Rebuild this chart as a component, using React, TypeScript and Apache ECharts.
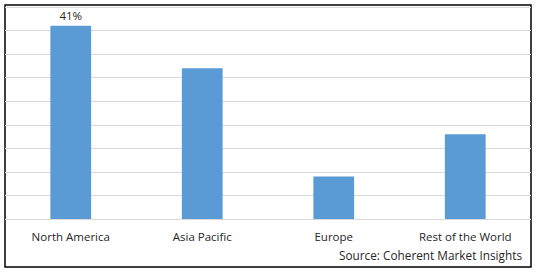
import React, { useEffect, useRef } from "react";
import * as echarts from "echarts";

const categories = ["North America", "Asia Pacific", "Europe", "Rest of the World"];
const values = [41, 32, 9, 18];
const labelled = [true, false, false, false];
const axisMax = 45;
const axisInterval = 5;
const sourceText = "Source: Coherent Market Insights";

const FONT = "'Open Sans', sans-serif";

export default function App() {
  const ref = useRef<HTMLDivElement>(null);
  useEffect(() => {
    if (!ref.current) return;
    const chart = echarts.init(ref.current, null, { renderer: "svg" });
    chart.setOption({
      animation: false,
      backgroundColor: "#ffffff",
      grid: { left: 5, right: 7, top: 7, bottom: 53, containLabel: false },
      xAxis: {
        type: "category",
        data: categories,
        axisLine: { show: false },
        axisTick: { show: false },
        axisLabel: {
          color: "#262626",
          fontFamily: FONT,
          fontSize: 11.5,
          margin: 11,
          interval: 0,
        },
      },
      yAxis: {
        type: "value",
        min: 0,
        max: axisMax,
        interval: axisInterval,
        axisLabel: { show: false },
        axisLine: { show: false },
        axisTick: { show: false },
        splitLine: { show: true, lineStyle: { color: "#d9d9d9", width: 1 } },
      },
      series: [
        {
          type: "bar",
          barWidth: "31%",
          itemStyle: { color: "#5b9bd5" },
          data: values.map((v, i) => ({
            value: v,
            label: {
              show: labelled[i],
              position: "top",
              distance: 4,
              formatter: "{c}%",
              color: "#262626",
              fontFamily: FONT,
              fontSize: 11.5,
            },
          })),
        },
      ],
      graphic: [
        {
          type: "rect",
          shape: { x: 5, y: 5, width: 526, height: 262 },
          style: { fill: "none", stroke: "#000000", lineWidth: 1.5 },
          silent: true,
        },
        {
          type: "text",
          right: 16,
          top: 249,
          style: {
            text: sourceText,
            fill: "#262626",
            font: `11.8px ${FONT}`,
          },
        },
      ],
    });
    return () => chart.dispose();
  }, []);
  return (
    <div
      ref={ref}
      style={{ position: "fixed", left: 0, top: 0, width: 538, height: 272 }}
    />
  );
}
